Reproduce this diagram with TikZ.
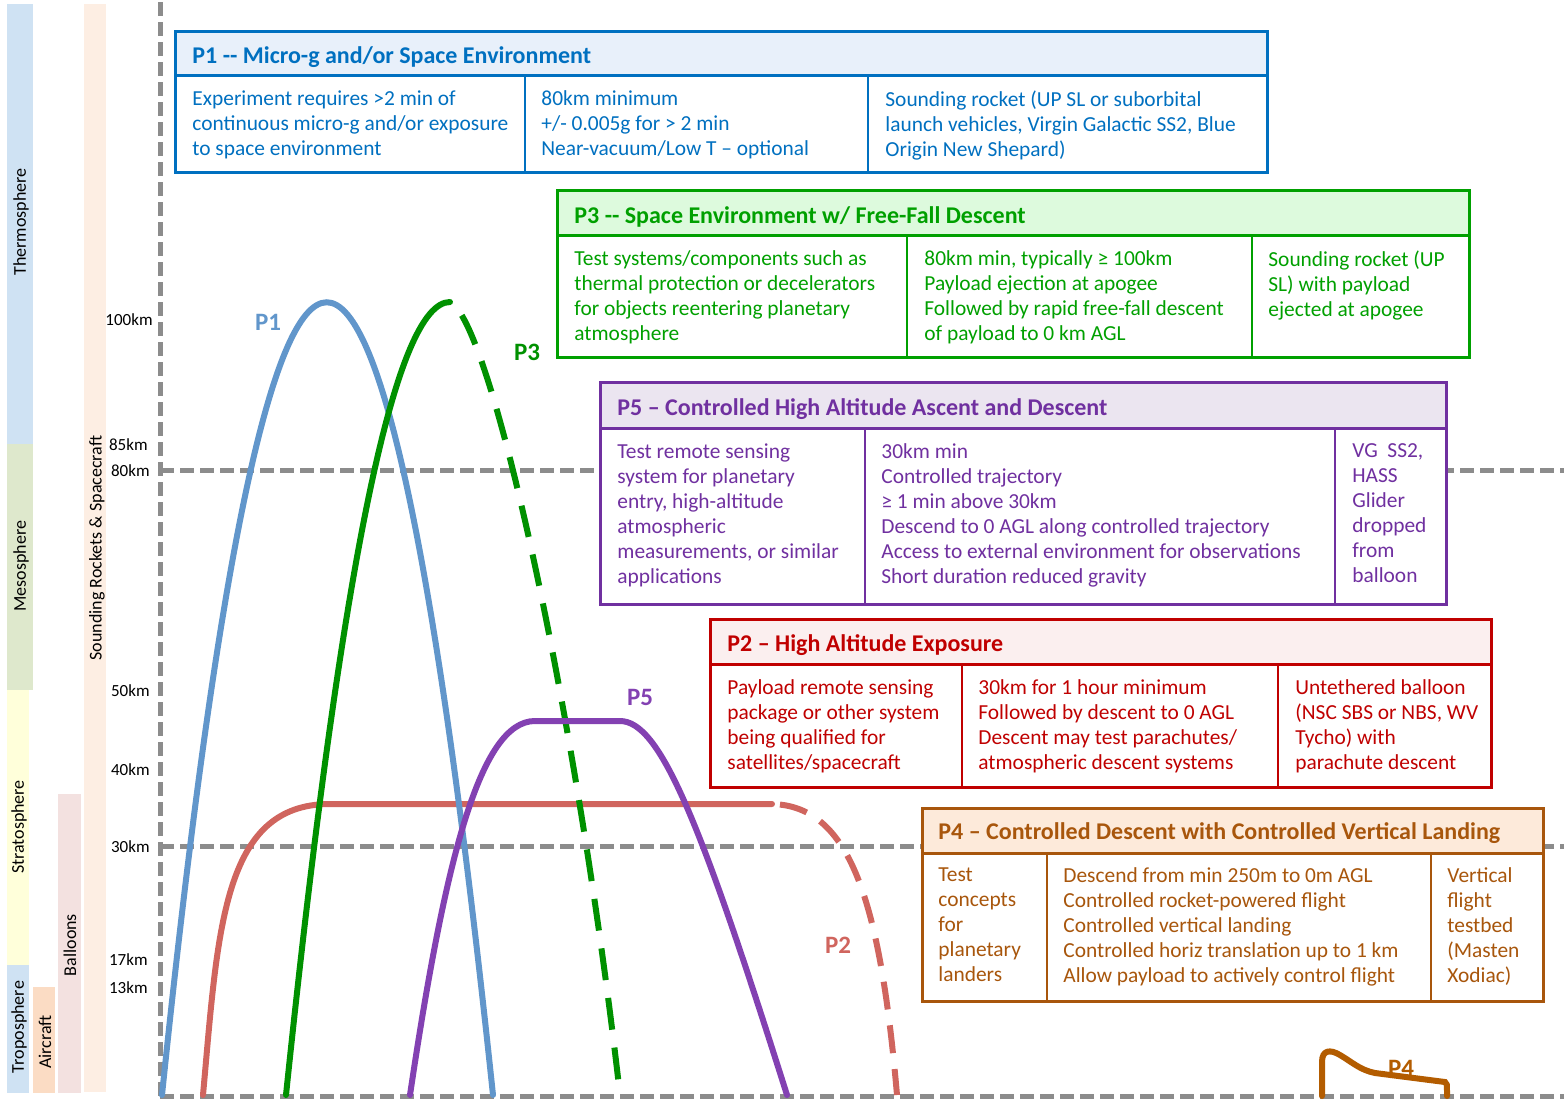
\documentclass[tikz,border=0pt]{standalone}
\usepackage{fontspec}
\setmainfont{Carlito}

% Couleurs
\definecolor{coulThermo}{HTML}{CFE2F3}
\definecolor{coulMeso}{HTML}{DEE8CC}
\definecolor{coulStrato}{HTML}{FFFFDA}
\definecolor{coulAvion}{HTML}{FBDCC4}
\definecolor{coulBallon}{HTML}{F3E1E0}
\definecolor{coulFusee}{HTML}{FDEEE3}
\definecolor{grisAxe}{HTML}{8C8C8C}
\definecolor{bleuP}{HTML}{0070C0}
\definecolor{bleuFond}{HTML}{E8F0FA}
\definecolor{vertP}{HTML}{00A000}
\definecolor{vertFond}{HTML}{DDFADD}
\definecolor{violetP}{HTML}{7030A0}
\definecolor{violetFond}{HTML}{EBE5F0}
\definecolor{rougeP}{HTML}{C00000}
\definecolor{rougeFond}{HTML}{FBEFEF}
\definecolor{brunP}{HTML}{A8560C}
\definecolor{brunFond}{HTML}{FDEADA}
\definecolor{courbeBleu}{HTML}{6196CB}
\definecolor{courbeVert}{HTML}{009100}
\definecolor{courbeRouge}{HTML}{D0655E}
\definecolor{courbeViolet}{HTML}{8341B2}
\definecolor{courbeBrun}{HTML}{B35C00}

\tikzset{
  bande/.style={inner sep=0pt, font=\fontsize{9}{10}\selectfont},
  altitude/.style={anchor=east, inner sep=0pt, font=\fontsize{8.5}{10}\selectfont},
  pointille/.style={draw=grisAxe, line width=2.5pt, dash pattern=on 7pt off 3pt},
  cadre/.style={line width=1.5pt},
  separ/.style={line width=1.2pt},
  entete/.style={anchor=base west, inner sep=0pt, font=\fontsize{12}{14}\selectfont\bfseries},
  cellule/.style={anchor=north west, align=left, inner sep=0pt,
    font=\fontsize{10.7}{12.5}\selectfont, execute at begin node=\strut},
  etiquette/.style={inner sep=0pt, font=\fontsize{12.5}{14}\selectfont\bfseries},
  courbe/.style={line width=3pt, line cap=round},
}

\begin{document}
\begin{tikzpicture}[x=0.5pt, y=-0.5pt]
    \useasboundingbox (0,0) rectangle (1564,1099);

    % Couches atmospheriques
    \fill[coulThermo] (7,4) rectangle (33,444);
    \node[bande, rotate=90] (thermo) at (21,222) {Thermosphere};
    \fill[coulMeso] (7,444) rectangle (33,690);
    \node[bande, rotate=90] (meso) at (21,566) {Mesosphere};
    \fill[coulStrato] (7,690) rectangle (29,965);
    \node[bande, rotate=90] (strato) at (19,827) {Stratosphere};
    \fill[coulThermo] (7,965) rectangle (29,1093);
    \node[bande, rotate=90] (tropo) at (19,1027) {Troposphere};

    % Vehicules
    \fill[coulAvion] (33,987) rectangle (55,1093);
    \node[bande, rotate=90] (avion) at (45,1042) {Aircraft};
    \fill[coulBallon] (58,794) rectangle (81,1093);
    \node[bande, rotate=90] (ballon) at (70,945) {Balloons};
    \fill[coulFusee] (84,4) rectangle (106,1092);
    \node[bande, rotate=90] (fusee) at (97,548) {Sounding Rockets \& Spacecraft};

    % Altitudes
    \node[altitude] (a100) at (153,320) {100km};
    \node[altitude] (a85) at (148,445) {85km};
    \node[altitude] (a80) at (150,471) {80km};
    \node[altitude] (a50) at (150,691) {50km};
    \node[altitude] (a40) at (150,770) {40km};
    \node[altitude] (a30) at (150,847) {30km};
    \node[altitude] (a17) at (148,960) {17km};
    \node[altitude] (a13) at (148,988) {13km};

    % Axes en pointilles
    \draw[pointille] (160,2) -- (160,1096);
    \draw[pointille] (160,470) -- (1564,470);
    \draw[pointille] (160,846) -- (1564,846);
    \draw[pointille] (160,1096) -- (1564,1096);

    % Courbe P2 (ballon)
    \draw[courbe, courbeRouge] (203,1095) .. controls (218,930) and (222,804) .. (330,804) -- (772,804);
    \draw[courbe, courbeRouge, line cap=butt, dash pattern=on 14pt off 8pt, dash phase=18pt]
        (772,804) .. controls (850,806) and (880,900) .. (897,1095);

    % Courbe P1 (fusee sonde)
    \draw[courbe, courbeBleu] (162,1095) .. controls (271,38) and (382,38) .. (493,1095);

    % Courbe P3 (montee puis chute libre)
    \draw[courbe, courbeVert] (286,1095) .. controls (341,566) and (395,302) .. (450,302);
    \draw[courbe, courbeVert, line cap=butt, dash pattern=on 16pt off 9pt, dash phase=16pt]
        (450,302) .. controls (490,320) and (575,700) .. (620,1095);

    % Courbe P5 (trajectoire controlee)
    \draw[courbe, courbeViolet] (410,1095) .. controls (445,860) and (480,721) .. (535,721)
        -- (620,721) .. controls (660,721) and (700,820) .. (787,1095);

    % Courbe P4 (atterrissage vertical)
    \draw[courbe, courbeBrun] (1322,1096) -- (1322,1062) .. controls (1322,1050) and (1330,1049) .. (1340,1055)
        .. controls (1352,1062) and (1360,1070) .. (1375,1073) -- (1445,1082)
        .. controls (1447,1083) .. (1447,1096);

    % Etiquettes des courbes
    \node[etiquette, text=courbeBleu] (eP1) at (268,322) {P1};
    \node[etiquette, text=courbeVert] (eP3) at (527,352) {P3};
    \node[etiquette, text=courbeViolet] (eP5) at (640,697) {P5};
    \node[etiquette, text=courbeRouge] (eP2) at (838,945) {P2};
    \node[etiquette, text=courbeBrun] (eP4) at (1401,1068) {P4};

    % Tableau P1
    \draw[cadre, draw=bleuP, fill=bleuFond] (175,31) rectangle (1267,75);
    \draw[cadre, draw=bleuP, fill=white] (175,75) rectangle (1267,172);
    \draw[separ, draw=bleuP] (525,75) -- (525,172);
    \draw[separ, draw=bleuP] (868,75) -- (868,172);
    \node[entete, text=bleuP] (tP1) at (192,63) {P1 -{}- Micro-g and/or Space Environment};
    \node[cellule, text=bleuP] (p1a) at (192,90) {Experiment requires >2 min of\\continuous micro-g and/or exposure\\to space environment};
    \node[cellule, text=bleuP] (p1b) at (541,90) {80km minimum\\+/- 0.005g for > 2 min\\Near-vacuum/Low T – optional};
    \node[cellule, text=bleuP] (p1c) at (885,90) {Sounding rocket (UP SL or suborbital\\launch vehicles, Virgin Galactic SS2, Blue\\Origin New Shepard)};

    % Tableau P3
    \draw[cadre, draw=vertP, fill=vertFond] (557,190) rectangle (1469,235);
    \draw[cadre, draw=vertP, fill=white] (557,235) rectangle (1469,357);
    \draw[separ, draw=vertP] (907,235) -- (907,357);
    \draw[separ, draw=vertP] (1252,235) -- (1252,357);
    \node[entete, text=vertP] (tP3) at (574,223) {P3 -{}- Space Environment w/ Free-Fall Descent};
    \node[cellule, text=vertP] (p3a) at (574,250) {Test systems/components such as\\thermal protection or decelerators\\for objects reentering planetary\\atmosphere};
    \node[cellule, text=vertP] (p3b) at (924,250) {80km min, typically ≥ 100km\\Payload ejection at apogee\\Followed by rapid free-fall descent\\of payload to 0 km AGL};
    \node[cellule, text=vertP] (p3c) at (1268,250) {Sounding rocket (UP\\SL) with payload\\ejected at apogee};

    % Tableau P5
    \draw[cadre, draw=violetP, fill=violetFond] (600,382) rectangle (1446,428);
    \draw[cadre, draw=violetP, fill=white] (600,428) rectangle (1446,604);
    \draw[separ, draw=violetP] (865,428) -- (865,604);
    \draw[separ, draw=violetP] (1335,428) -- (1335,604);
    \node[entete, text=violetP] (tP5) at (617,415) {P5 – Controlled High Altitude Ascent and Descent};
    \node[cellule, text=violetP] (p5a) at (617,443) {Test remote sensing\\system for planetary\\entry, high-altitude\\atmospheric\\measurements, or similar\\applications};
    \node[cellule, text=violetP] (p5b) at (881,443) {30km min\\Controlled trajectory\\≥ 1 min above 30km\\Descend to 0 AGL along controlled trajectory\\Access to external environment for observations\\Short duration reduced gravity};
    \node[cellule, text=violetP] (p5c) at (1352,443) {VG\ \ SS2,\\HASS\\Glider\\dropped\\from\\balloon};

    % Tableau P2
    \draw[cadre, draw=rougeP, fill=rougeFond] (710,619) rectangle (1491,664);
    \draw[cadre, draw=rougeP, fill=white] (710,664) rectangle (1491,787);
    \draw[separ, draw=rougeP] (962,664) -- (962,787);
    \draw[separ, draw=rougeP] (1278,664) -- (1278,787);
    \node[entete, text=rougeP] (tP2) at (727,651) {P2 – High Altitude Exposure};
    \node[cellule, text=rougeP] (p2a) at (727,679) {Payload remote sensing\\package or other system\\being qualified for\\satellites/spacecraft};
    \node[cellule, text=rougeP] (p2b) at (978,679) {30km for 1 hour minimum\\Followed by descent to 0 AGL\\Descent may test parachutes/\\atmospheric descent systems};
    \node[cellule, text=rougeP] (p2c) at (1295,679) {Untethered balloon\\(NSC SBS or NBS, WV\\Tycho) with\\parachute descent};

    % Tableau P4
    \draw[cadre, draw=brunP, fill=brunFond] (922,808) rectangle (1543,853);
    \draw[cadre, draw=brunP, fill=white] (922,853) rectangle (1543,1001);
    \draw[separ, draw=brunP] (1047,853) -- (1047,1001);
    \draw[separ, draw=brunP] (1431,853) -- (1431,1001);
    \node[entete, text=brunP] (tP4) at (938,839) {P4 – Controlled Descent with Controlled Vertical Landing};
    \node[cellule, text=brunP] (p4a) at (938,867) {Test\\concepts\\for\\planetary\\landers};
    \node[cellule, text=brunP] (p4b) at (1063,867) {Descend from min 250m to 0m AGL\\Controlled rocket-powered flight\\Controlled vertical landing\\Controlled horiz translation up to 1 km\\Allow payload to actively control flight};
    \node[cellule, text=brunP] (p4c) at (1447,867) {Vertical\\flight\\testbed\\(Masten\\Xodiac)};
\end{tikzpicture}
\end{document}
